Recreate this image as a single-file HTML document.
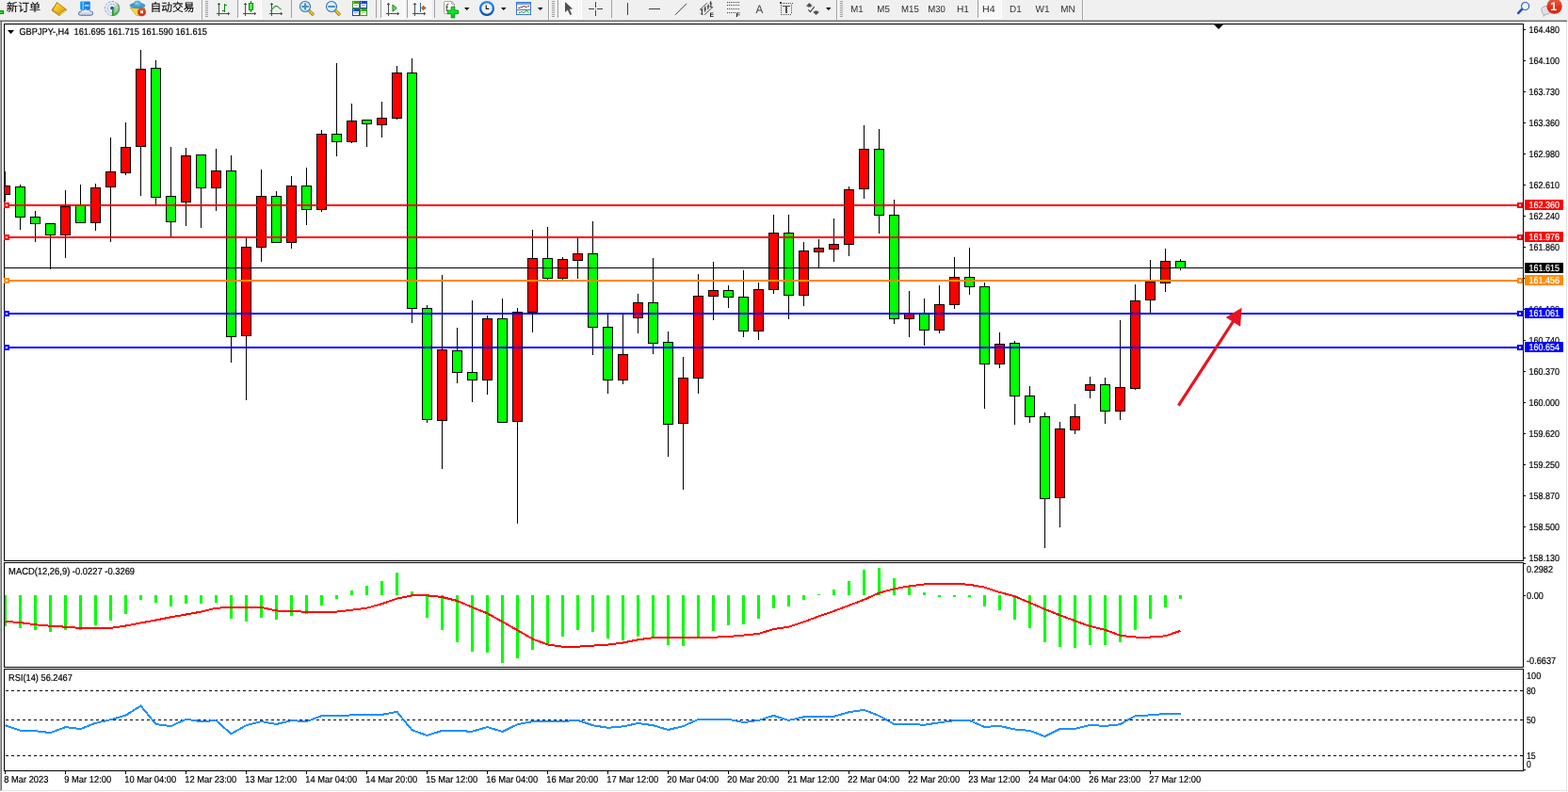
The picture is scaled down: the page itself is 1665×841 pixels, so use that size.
<!DOCTYPE html>
<html lang="zh"><head><meta charset="utf-8"><title>GBPJPY-,H4</title>
<style>
html,body{margin:0;padding:0;background:#fff;overflow:hidden}
body{width:1665px;height:841px;position:relative}
svg{position:absolute;left:0;top:0;display:block}
svg text{font-family:"Liberation Sans","Noto Sans CJK SC",sans-serif;white-space:pre;text-rendering:geometricPrecision}
</style></head><body>
<svg width="1665" height="841" viewBox="0 0 1665 841" shape-rendering="crispEdges">
<defs>

<pattern id="chk" width="2" height="2" patternUnits="userSpaceOnUse"><rect width="2" height="2" fill="#fff"/><rect width="1" height="1" fill="#f0f0f0"/><rect x="1" y="1" width="1" height="1" fill="#f0f0f0"/></pattern>
<linearGradient id="gold" x1="0" y1="0" x2="1" y2="1"><stop offset="0" stop-color="#fbe060"/><stop offset="0.5" stop-color="#f0c018"/><stop offset="1" stop-color="#c88a10"/></linearGradient>
<linearGradient id="blu" x1="0" y1="0" x2="1" y2="0"><stop offset="0" stop-color="#0898f8"/><stop offset="1" stop-color="#2878e0"/></linearGradient>
<linearGradient id="cloud" x1="0" y1="0" x2="0" y2="1"><stop offset="0" stop-color="#ffffff"/><stop offset="1" stop-color="#b8c4dc"/></linearGradient>
<linearGradient id="grn" x1="0" y1="0" x2="0" y2="1"><stop offset="0" stop-color="#c8e8c0"/><stop offset="1" stop-color="#30a030"/></linearGradient>
<linearGradient id="yel" x1="0" y1="0" x2="0" y2="1"><stop offset="0" stop-color="#f8d028"/><stop offset="1" stop-color="#f8e870"/></linearGradient>
<linearGradient id="plus" x1="0" y1="0" x2="0" y2="1"><stop offset="0" stop-color="#20d830"/><stop offset="0.5" stop-color="#00f020"/><stop offset="1" stop-color="#10b818"/></linearGradient>
<linearGradient id="clk" x1="0" y1="0" x2="0" y2="1"><stop offset="0" stop-color="#2090f0"/><stop offset="1" stop-color="#0050b0"/></linearGradient>
<linearGradient id="badge" x1="0" y1="0" x2="0" y2="1"><stop offset="0" stop-color="#e86040"/><stop offset="0.6" stop-color="#e03018"/><stop offset="1" stop-color="#d82810"/></linearGradient>

<clipPath id="cplot"><rect x="5" y="26" width="1612" height="792"/></clipPath>
<clipPath id="cmain"><rect x="1618" y="22" width="47" height="574"/></clipPath>
</defs>
<rect x="0" y="0" width="1665" height="841" fill="#fff"/>
<rect x="0" y="23" width="1" height="817" fill="#a8a8a8"/>
<rect x="1" y="23" width="1" height="816" fill="#696969"/>
<rect x="1663" y="23" width="1" height="817" fill="#e3e3e3"/>
<rect x="1664" y="23" width="1" height="818" fill="#ffffff"/>
<rect x="1" y="839" width="1663" height="1" fill="#e3e3e3"/>
<rect x="0" y="840" width="1665" height="1" fill="#ffffff"/>
<rect x="4" y="25" width="1614" height="1" fill="#000"/>
<rect x="4" y="25" width="1" height="794" fill="#000"/>
<rect x="1617" y="25" width="1" height="794" fill="#000"/>
<rect x="4" y="595" width="1614" height="1" fill="#000"/>
<rect x="4" y="597" width="1614" height="1" fill="#000"/>
<rect x="4" y="708" width="1614" height="1" fill="#000"/>
<rect x="4" y="710" width="1614" height="1" fill="#000"/>
<rect x="4" y="818" width="1614" height="1" fill="#000"/>
<rect x="4" y="596" width="1614" height="1" fill="#fff"/>
<rect x="4" y="709" width="1614" height="1" fill="#fff"/>
<g clip-path="url(#cmain)">
<rect x="1618" y="31" width="2" height="1" fill="#000"/>
<text x="1623.5" y="35" font-size="10.2" fill="#000" stroke="#000" stroke-width="0.2" textLength="32.5" lengthAdjust="spacingAndGlyphs">164.480</text>
<rect x="1618" y="64" width="2" height="1" fill="#000"/>
<text x="1623.5" y="68" font-size="10.2" fill="#000" stroke="#000" stroke-width="0.2" textLength="32.5" lengthAdjust="spacingAndGlyphs">164.100</text>
<rect x="1618" y="97" width="2" height="1" fill="#000"/>
<text x="1623.5" y="101" font-size="10.2" fill="#000" stroke="#000" stroke-width="0.2" textLength="32.5" lengthAdjust="spacingAndGlyphs">163.730</text>
<rect x="1618" y="130" width="2" height="1" fill="#000"/>
<text x="1623.5" y="134" font-size="10.2" fill="#000" stroke="#000" stroke-width="0.2" textLength="32.5" lengthAdjust="spacingAndGlyphs">163.360</text>
<rect x="1618" y="163" width="2" height="1" fill="#000"/>
<text x="1623.5" y="167" font-size="10.2" fill="#000" stroke="#000" stroke-width="0.2" textLength="32.5" lengthAdjust="spacingAndGlyphs">162.980</text>
<rect x="1618" y="196" width="2" height="1" fill="#000"/>
<text x="1623.5" y="200" font-size="10.2" fill="#000" stroke="#000" stroke-width="0.2" textLength="32.5" lengthAdjust="spacingAndGlyphs">162.610</text>
<rect x="1618" y="229" width="2" height="1" fill="#000"/>
<text x="1623.5" y="233" font-size="10.2" fill="#000" stroke="#000" stroke-width="0.2" textLength="32.5" lengthAdjust="spacingAndGlyphs">162.240</text>
<rect x="1618" y="262" width="2" height="1" fill="#000"/>
<text x="1623.5" y="266" font-size="10.2" fill="#000" stroke="#000" stroke-width="0.2" textLength="32.5" lengthAdjust="spacingAndGlyphs">161.860</text>
<rect x="1618" y="295" width="2" height="1" fill="#000"/>
<rect x="1618" y="328" width="2" height="1" fill="#000"/>
<text x="1623.5" y="332" font-size="10.2" fill="#000" stroke="#000" stroke-width="0.2" textLength="32.5" lengthAdjust="spacingAndGlyphs">161.120</text>
<rect x="1618" y="361" width="2" height="1" fill="#000"/>
<text x="1623.5" y="365" font-size="10.2" fill="#000" stroke="#000" stroke-width="0.2" textLength="32.5" lengthAdjust="spacingAndGlyphs">160.740</text>
<rect x="1618" y="394" width="2" height="1" fill="#000"/>
<text x="1623.5" y="398" font-size="10.2" fill="#000" stroke="#000" stroke-width="0.2" textLength="32.5" lengthAdjust="spacingAndGlyphs">160.370</text>
<rect x="1618" y="427" width="2" height="1" fill="#000"/>
<text x="1623.5" y="431" font-size="10.2" fill="#000" stroke="#000" stroke-width="0.2" textLength="32.5" lengthAdjust="spacingAndGlyphs">160.000</text>
<rect x="1618" y="460" width="2" height="1" fill="#000"/>
<text x="1623.5" y="464" font-size="10.2" fill="#000" stroke="#000" stroke-width="0.2" textLength="32.5" lengthAdjust="spacingAndGlyphs">159.620</text>
<rect x="1618" y="493" width="2" height="1" fill="#000"/>
<text x="1623.5" y="497" font-size="10.2" fill="#000" stroke="#000" stroke-width="0.2" textLength="32.5" lengthAdjust="spacingAndGlyphs">159.250</text>
<rect x="1618" y="526" width="2" height="1" fill="#000"/>
<text x="1623.5" y="530" font-size="10.2" fill="#000" stroke="#000" stroke-width="0.2" textLength="32.5" lengthAdjust="spacingAndGlyphs">158.870</text>
<rect x="1618" y="559" width="2" height="1" fill="#000"/>
<text x="1623.5" y="563" font-size="10.2" fill="#000" stroke="#000" stroke-width="0.2" textLength="32.5" lengthAdjust="spacingAndGlyphs">158.500</text>
<rect x="1618" y="592" width="2" height="1" fill="#000"/>
<text x="1623.5" y="596" font-size="10.2" fill="#000" stroke="#000" stroke-width="0.2" textLength="32.5" lengthAdjust="spacingAndGlyphs">158.130</text>
</g>
<g clip-path="url(#cplot)">
<rect x="5" y="182" width="1" height="32" fill="#000"/>
<rect x="0" y="197" width="11" height="10" fill="#000"/>
<rect x="1" y="198" width="9" height="8" fill="#ff0000"/>
<rect x="21" y="196" width="1" height="48" fill="#000"/>
<rect x="16" y="198" width="11" height="33" fill="#000"/>
<rect x="17" y="199" width="9" height="31" fill="#00ff00"/>
<rect x="37" y="224" width="1" height="33" fill="#000"/>
<rect x="32" y="230" width="11" height="8" fill="#000"/>
<rect x="33" y="231" width="9" height="6" fill="#00ff00"/>
<rect x="53" y="237" width="1" height="49" fill="#000"/>
<rect x="48" y="237" width="11" height="13" fill="#000"/>
<rect x="49" y="238" width="9" height="11" fill="#00ff00"/>
<rect x="69" y="202" width="1" height="72" fill="#000"/>
<rect x="64" y="219" width="11" height="31" fill="#000"/>
<rect x="65" y="220" width="9" height="29" fill="#ff0000"/>
<rect x="85" y="196" width="1" height="41" fill="#000"/>
<rect x="80" y="218" width="11" height="19" fill="#000"/>
<rect x="81" y="219" width="9" height="17" fill="#00ff00"/>
<rect x="101" y="195" width="1" height="50" fill="#000"/>
<rect x="96" y="199" width="11" height="38" fill="#000"/>
<rect x="97" y="200" width="9" height="36" fill="#ff0000"/>
<rect x="117" y="146" width="1" height="111" fill="#000"/>
<rect x="112" y="182" width="11" height="17" fill="#000"/>
<rect x="113" y="183" width="9" height="15" fill="#ff0000"/>
<rect x="133" y="130" width="1" height="56" fill="#000"/>
<rect x="128" y="156" width="11" height="28" fill="#000"/>
<rect x="129" y="157" width="9" height="26" fill="#ff0000"/>
<rect x="149" y="53" width="1" height="155" fill="#000"/>
<rect x="144" y="73" width="11" height="83" fill="#000"/>
<rect x="145" y="74" width="9" height="81" fill="#ff0000"/>
<rect x="165" y="64" width="1" height="153" fill="#000"/>
<rect x="160" y="72" width="11" height="138" fill="#000"/>
<rect x="161" y="73" width="9" height="136" fill="#00ff00"/>
<rect x="181" y="156" width="1" height="95" fill="#000"/>
<rect x="176" y="208" width="11" height="28" fill="#000"/>
<rect x="177" y="209" width="9" height="26" fill="#00ff00"/>
<rect x="197" y="157" width="1" height="83" fill="#000"/>
<rect x="192" y="165" width="11" height="50" fill="#000"/>
<rect x="193" y="166" width="9" height="48" fill="#ff0000"/>
<rect x="213" y="164" width="1" height="78" fill="#000"/>
<rect x="208" y="164" width="11" height="36" fill="#000"/>
<rect x="209" y="165" width="9" height="34" fill="#00ff00"/>
<rect x="229" y="158" width="1" height="66" fill="#000"/>
<rect x="224" y="181" width="11" height="19" fill="#000"/>
<rect x="225" y="182" width="9" height="17" fill="#ff0000"/>
<rect x="245" y="165" width="1" height="220" fill="#000"/>
<rect x="240" y="181" width="11" height="177" fill="#000"/>
<rect x="241" y="182" width="9" height="175" fill="#00ff00"/>
<rect x="261" y="253" width="1" height="172" fill="#000"/>
<rect x="256" y="262" width="11" height="95" fill="#000"/>
<rect x="257" y="263" width="9" height="93" fill="#ff0000"/>
<rect x="277" y="180" width="1" height="98" fill="#000"/>
<rect x="272" y="208" width="11" height="55" fill="#000"/>
<rect x="273" y="209" width="9" height="53" fill="#ff0000"/>
<rect x="293" y="203" width="1" height="55" fill="#000"/>
<rect x="288" y="208" width="11" height="50" fill="#000"/>
<rect x="289" y="209" width="9" height="48" fill="#00ff00"/>
<rect x="309" y="187" width="1" height="77" fill="#000"/>
<rect x="304" y="197" width="11" height="61" fill="#000"/>
<rect x="305" y="198" width="9" height="59" fill="#ff0000"/>
<rect x="325" y="178" width="1" height="61" fill="#000"/>
<rect x="320" y="197" width="11" height="26" fill="#000"/>
<rect x="321" y="198" width="9" height="24" fill="#00ff00"/>
<rect x="341" y="138" width="1" height="87" fill="#000"/>
<rect x="336" y="142" width="11" height="81" fill="#000"/>
<rect x="337" y="143" width="9" height="79" fill="#ff0000"/>
<rect x="357" y="67" width="1" height="99" fill="#000"/>
<rect x="352" y="142" width="11" height="9" fill="#000"/>
<rect x="353" y="143" width="9" height="7" fill="#00ff00"/>
<rect x="373" y="110" width="1" height="42" fill="#000"/>
<rect x="368" y="128" width="11" height="23" fill="#000"/>
<rect x="369" y="129" width="9" height="21" fill="#ff0000"/>
<rect x="389" y="127" width="1" height="29" fill="#000"/>
<rect x="384" y="127" width="11" height="5" fill="#000"/>
<rect x="385" y="128" width="9" height="3" fill="#00ff00"/>
<rect x="405" y="108" width="1" height="38" fill="#000"/>
<rect x="400" y="125" width="11" height="8" fill="#000"/>
<rect x="401" y="126" width="9" height="6" fill="#ff0000"/>
<rect x="421" y="70" width="1" height="57" fill="#000"/>
<rect x="416" y="77" width="11" height="49" fill="#000"/>
<rect x="417" y="78" width="9" height="47" fill="#ff0000"/>
<rect x="437" y="62" width="1" height="281" fill="#000"/>
<rect x="432" y="77" width="11" height="251" fill="#000"/>
<rect x="433" y="78" width="9" height="249" fill="#00ff00"/>
<rect x="453" y="324" width="1" height="125" fill="#000"/>
<rect x="448" y="327" width="11" height="119" fill="#000"/>
<rect x="449" y="328" width="9" height="117" fill="#00ff00"/>
<rect x="469" y="292" width="1" height="206" fill="#000"/>
<rect x="464" y="371" width="11" height="76" fill="#000"/>
<rect x="465" y="372" width="9" height="74" fill="#ff0000"/>
<rect x="485" y="348" width="1" height="59" fill="#000"/>
<rect x="480" y="372" width="11" height="24" fill="#000"/>
<rect x="481" y="373" width="9" height="22" fill="#00ff00"/>
<rect x="501" y="319" width="1" height="108" fill="#000"/>
<rect x="496" y="395" width="11" height="9" fill="#000"/>
<rect x="497" y="396" width="9" height="7" fill="#00ff00"/>
<rect x="517" y="335" width="1" height="84" fill="#000"/>
<rect x="512" y="338" width="11" height="66" fill="#000"/>
<rect x="513" y="339" width="9" height="64" fill="#ff0000"/>
<rect x="533" y="317" width="1" height="132" fill="#000"/>
<rect x="528" y="338" width="11" height="111" fill="#000"/>
<rect x="529" y="339" width="9" height="109" fill="#00ff00"/>
<rect x="549" y="327" width="1" height="229" fill="#000"/>
<rect x="544" y="331" width="11" height="117" fill="#000"/>
<rect x="545" y="332" width="9" height="115" fill="#ff0000"/>
<rect x="565" y="244" width="1" height="109" fill="#000"/>
<rect x="560" y="274" width="11" height="58" fill="#000"/>
<rect x="561" y="275" width="9" height="56" fill="#ff0000"/>
<rect x="581" y="241" width="1" height="56" fill="#000"/>
<rect x="576" y="274" width="11" height="22" fill="#000"/>
<rect x="577" y="275" width="9" height="20" fill="#00ff00"/>
<rect x="597" y="273" width="1" height="24" fill="#000"/>
<rect x="592" y="275" width="11" height="21" fill="#000"/>
<rect x="593" y="276" width="9" height="19" fill="#ff0000"/>
<rect x="613" y="253" width="1" height="43" fill="#000"/>
<rect x="608" y="269" width="11" height="8" fill="#000"/>
<rect x="609" y="270" width="9" height="6" fill="#ff0000"/>
<rect x="629" y="235" width="1" height="142" fill="#000"/>
<rect x="624" y="269" width="11" height="79" fill="#000"/>
<rect x="625" y="270" width="9" height="77" fill="#00ff00"/>
<rect x="645" y="334" width="1" height="84" fill="#000"/>
<rect x="640" y="347" width="11" height="57" fill="#000"/>
<rect x="641" y="348" width="9" height="55" fill="#00ff00"/>
<rect x="661" y="334" width="1" height="74" fill="#000"/>
<rect x="656" y="376" width="11" height="28" fill="#000"/>
<rect x="657" y="377" width="9" height="26" fill="#ff0000"/>
<rect x="677" y="312" width="1" height="42" fill="#000"/>
<rect x="672" y="321" width="11" height="17" fill="#000"/>
<rect x="673" y="322" width="9" height="15" fill="#ff0000"/>
<rect x="693" y="274" width="1" height="102" fill="#000"/>
<rect x="688" y="321" width="11" height="44" fill="#000"/>
<rect x="689" y="322" width="9" height="42" fill="#00ff00"/>
<rect x="709" y="352" width="1" height="133" fill="#000"/>
<rect x="704" y="363" width="11" height="88" fill="#000"/>
<rect x="705" y="364" width="9" height="86" fill="#00ff00"/>
<rect x="725" y="379" width="1" height="141" fill="#000"/>
<rect x="720" y="401" width="11" height="49" fill="#000"/>
<rect x="721" y="402" width="9" height="47" fill="#ff0000"/>
<rect x="741" y="291" width="1" height="127" fill="#000"/>
<rect x="736" y="314" width="11" height="88" fill="#000"/>
<rect x="737" y="315" width="9" height="86" fill="#ff0000"/>
<rect x="757" y="278" width="1" height="62" fill="#000"/>
<rect x="752" y="308" width="11" height="7" fill="#000"/>
<rect x="753" y="309" width="9" height="5" fill="#ff0000"/>
<rect x="773" y="303" width="1" height="24" fill="#000"/>
<rect x="768" y="308" width="11" height="8" fill="#000"/>
<rect x="769" y="309" width="9" height="6" fill="#00ff00"/>
<rect x="789" y="287" width="1" height="71" fill="#000"/>
<rect x="784" y="315" width="11" height="37" fill="#000"/>
<rect x="785" y="316" width="9" height="35" fill="#00ff00"/>
<rect x="805" y="300" width="1" height="61" fill="#000"/>
<rect x="800" y="307" width="11" height="45" fill="#000"/>
<rect x="801" y="308" width="9" height="43" fill="#ff0000"/>
<rect x="821" y="228" width="1" height="84" fill="#000"/>
<rect x="816" y="247" width="11" height="61" fill="#000"/>
<rect x="817" y="248" width="9" height="59" fill="#ff0000"/>
<rect x="837" y="228" width="1" height="111" fill="#000"/>
<rect x="832" y="247" width="11" height="67" fill="#000"/>
<rect x="833" y="248" width="9" height="65" fill="#00ff00"/>
<rect x="853" y="257" width="1" height="68" fill="#000"/>
<rect x="848" y="266" width="11" height="48" fill="#000"/>
<rect x="849" y="267" width="9" height="46" fill="#ff0000"/>
<rect x="869" y="254" width="1" height="30" fill="#000"/>
<rect x="864" y="263" width="11" height="5" fill="#000"/>
<rect x="865" y="264" width="9" height="3" fill="#ff0000"/>
<rect x="885" y="232" width="1" height="46" fill="#000"/>
<rect x="880" y="259" width="11" height="6" fill="#000"/>
<rect x="881" y="260" width="9" height="4" fill="#ff0000"/>
<rect x="901" y="198" width="1" height="74" fill="#000"/>
<rect x="896" y="201" width="11" height="59" fill="#000"/>
<rect x="897" y="202" width="9" height="57" fill="#ff0000"/>
<rect x="917" y="133" width="1" height="78" fill="#000"/>
<rect x="912" y="158" width="11" height="43" fill="#000"/>
<rect x="913" y="159" width="9" height="41" fill="#ff0000"/>
<rect x="933" y="137" width="1" height="111" fill="#000"/>
<rect x="928" y="158" width="11" height="71" fill="#000"/>
<rect x="929" y="159" width="9" height="69" fill="#00ff00"/>
<rect x="949" y="212" width="1" height="132" fill="#000"/>
<rect x="944" y="228" width="11" height="111" fill="#000"/>
<rect x="945" y="229" width="9" height="109" fill="#00ff00"/>
<rect x="965" y="309" width="1" height="49" fill="#000"/>
<rect x="960" y="333" width="11" height="6" fill="#000"/>
<rect x="961" y="334" width="9" height="4" fill="#ff0000"/>
<rect x="981" y="317" width="1" height="50" fill="#000"/>
<rect x="976" y="333" width="11" height="18" fill="#000"/>
<rect x="977" y="334" width="9" height="16" fill="#00ff00"/>
<rect x="997" y="303" width="1" height="51" fill="#000"/>
<rect x="992" y="323" width="11" height="28" fill="#000"/>
<rect x="993" y="324" width="9" height="26" fill="#ff0000"/>
<rect x="1013" y="273" width="1" height="55" fill="#000"/>
<rect x="1008" y="294" width="11" height="30" fill="#000"/>
<rect x="1009" y="295" width="9" height="28" fill="#ff0000"/>
<rect x="1029" y="263" width="1" height="50" fill="#000"/>
<rect x="1024" y="294" width="11" height="11" fill="#000"/>
<rect x="1025" y="295" width="9" height="9" fill="#00ff00"/>
<rect x="1045" y="300" width="1" height="134" fill="#000"/>
<rect x="1040" y="304" width="11" height="83" fill="#000"/>
<rect x="1041" y="305" width="9" height="81" fill="#00ff00"/>
<rect x="1061" y="353" width="1" height="38" fill="#000"/>
<rect x="1056" y="365" width="11" height="22" fill="#000"/>
<rect x="1057" y="366" width="9" height="20" fill="#ff0000"/>
<rect x="1077" y="362" width="1" height="89" fill="#000"/>
<rect x="1072" y="364" width="11" height="57" fill="#000"/>
<rect x="1073" y="365" width="9" height="55" fill="#00ff00"/>
<rect x="1093" y="410" width="1" height="39" fill="#000"/>
<rect x="1088" y="420" width="11" height="23" fill="#000"/>
<rect x="1089" y="421" width="9" height="21" fill="#00ff00"/>
<rect x="1109" y="438" width="1" height="144" fill="#000"/>
<rect x="1104" y="442" width="11" height="88" fill="#000"/>
<rect x="1105" y="443" width="9" height="86" fill="#00ff00"/>
<rect x="1125" y="448" width="1" height="112" fill="#000"/>
<rect x="1120" y="455" width="11" height="74" fill="#000"/>
<rect x="1121" y="456" width="9" height="72" fill="#ff0000"/>
<rect x="1141" y="429" width="1" height="32" fill="#000"/>
<rect x="1136" y="442" width="11" height="15" fill="#000"/>
<rect x="1137" y="443" width="9" height="13" fill="#ff0000"/>
<rect x="1157" y="400" width="1" height="23" fill="#000"/>
<rect x="1152" y="408" width="11" height="7" fill="#000"/>
<rect x="1153" y="409" width="9" height="5" fill="#ff0000"/>
<rect x="1173" y="401" width="1" height="49" fill="#000"/>
<rect x="1168" y="408" width="11" height="29" fill="#000"/>
<rect x="1169" y="409" width="9" height="27" fill="#00ff00"/>
<rect x="1189" y="340" width="1" height="106" fill="#000"/>
<rect x="1184" y="411" width="11" height="26" fill="#000"/>
<rect x="1185" y="412" width="9" height="24" fill="#ff0000"/>
<rect x="1205" y="302" width="1" height="112" fill="#000"/>
<rect x="1200" y="319" width="11" height="94" fill="#000"/>
<rect x="1201" y="320" width="9" height="92" fill="#ff0000"/>
<rect x="1221" y="276" width="1" height="56" fill="#000"/>
<rect x="1216" y="299" width="11" height="20" fill="#000"/>
<rect x="1217" y="300" width="9" height="18" fill="#ff0000"/>
<rect x="1237" y="264" width="1" height="46" fill="#000"/>
<rect x="1232" y="277" width="11" height="24" fill="#000"/>
<rect x="1233" y="278" width="9" height="22" fill="#ff0000"/>
<rect x="1253" y="275" width="1" height="12" fill="#000"/>
<rect x="1248" y="277" width="11" height="8" fill="#000"/>
<rect x="1249" y="278" width="9" height="6" fill="#00ff00"/>
</g>
<rect x="5" y="284" width="1612" height="1" fill="#000"/>
<rect x="1619" y="279" width="41" height="11" fill="#000"/>
<text x="1623.5" y="288.2" font-size="10.2" fill="#fff" stroke="#fff" stroke-width="0.2" textLength="32.5" lengthAdjust="spacingAndGlyphs">161.615</text>
<rect x="5" y="217" width="1612" height="2" fill="#ff0000"/>
<rect x="4" y="215" width="6" height="6" fill="#ff0000"/>
<rect x="6" y="217" width="2" height="2" fill="#fff"/>
<rect x="1611" y="215" width="6" height="6" fill="#ff0000"/>
<rect x="1613" y="217" width="2" height="2" fill="#fff"/>
<rect x="1619" y="212" width="41" height="11" fill="#ff0000"/>
<text x="1623.5" y="221.2" font-size="10.2" fill="#fff" stroke="#fff" stroke-width="0.2" textLength="32.5" lengthAdjust="spacingAndGlyphs">162.360</text>
<rect x="5" y="251" width="1612" height="2" fill="#ff0000"/>
<rect x="4" y="249" width="6" height="6" fill="#ff0000"/>
<rect x="6" y="251" width="2" height="2" fill="#fff"/>
<rect x="1611" y="249" width="6" height="6" fill="#ff0000"/>
<rect x="1613" y="251" width="2" height="2" fill="#fff"/>
<rect x="1619" y="246" width="41" height="11" fill="#ff0000"/>
<text x="1623.5" y="255.2" font-size="10.2" fill="#fff" stroke="#fff" stroke-width="0.2" textLength="32.5" lengthAdjust="spacingAndGlyphs">161.976</text>
<rect x="5" y="297" width="1612" height="2" fill="#ff8c00"/>
<rect x="4" y="295" width="6" height="6" fill="#ff8c00"/>
<rect x="6" y="297" width="2" height="2" fill="#fff"/>
<rect x="1611" y="295" width="6" height="6" fill="#ff8c00"/>
<rect x="1613" y="297" width="2" height="2" fill="#fff"/>
<rect x="1619" y="292" width="41" height="11" fill="#ff8c00"/>
<text x="1623.5" y="301.2" font-size="10.2" fill="#fff" stroke="#fff" stroke-width="0.2" textLength="32.5" lengthAdjust="spacingAndGlyphs">161.456</text>
<rect x="5" y="332" width="1612" height="2" fill="#0000ff"/>
<rect x="4" y="330" width="6" height="6" fill="#0000ff"/>
<rect x="6" y="332" width="2" height="2" fill="#fff"/>
<rect x="1611" y="330" width="6" height="6" fill="#0000ff"/>
<rect x="1613" y="332" width="2" height="2" fill="#fff"/>
<rect x="1619" y="327" width="41" height="11" fill="#0000ff"/>
<text x="1623.5" y="336.2" font-size="10.2" fill="#fff" stroke="#fff" stroke-width="0.2" textLength="32.5" lengthAdjust="spacingAndGlyphs">161.061</text>
<rect x="5" y="368" width="1612" height="2" fill="#0000ff"/>
<rect x="4" y="366" width="6" height="6" fill="#0000ff"/>
<rect x="6" y="368" width="2" height="2" fill="#fff"/>
<rect x="1611" y="366" width="6" height="6" fill="#0000ff"/>
<rect x="1613" y="368" width="2" height="2" fill="#fff"/>
<rect x="1619" y="363" width="41" height="11" fill="#0000ff"/>
<text x="1623.5" y="372.2" font-size="10.2" fill="#fff" stroke="#fff" stroke-width="0.2" textLength="32.5" lengthAdjust="spacingAndGlyphs">160.654</text>
<g shape-rendering="geometricPrecision"><line x1="1251.4" y1="430.6" x2="1311" y2="339" stroke="#e8131f" stroke-width="3.2"/><polygon points="1318.6,326.7 1301.7,336.9 1317.1,346.7" fill="#e8131f"/></g>
<polygon points="1289,26 1299,26 1294,31" fill="#000" shape-rendering="geometricPrecision"/>
<polygon points="8,32 15,32 11.5,36" fill="#000" shape-rendering="geometricPrecision"/>
<text x="20.4" y="37" font-size="10.2" fill="#000" stroke="#000" stroke-width="0.2" textLength="199.4" lengthAdjust="spacingAndGlyphs">GBPJPY-,H4  161.695 161.715 161.590 161.615</text>
<g clip-path="url(#cplot)">
<rect x="4" y="632" width="3" height="33" fill="#00ff00"/>
<rect x="20" y="632" width="3" height="35" fill="#00ff00"/>
<rect x="36" y="632" width="3" height="37" fill="#00ff00"/>
<rect x="52" y="632" width="3" height="39" fill="#00ff00"/>
<rect x="68" y="632" width="3" height="37" fill="#00ff00"/>
<rect x="84" y="632" width="3" height="37" fill="#00ff00"/>
<rect x="100" y="632" width="3" height="32" fill="#00ff00"/>
<rect x="116" y="632" width="3" height="27" fill="#00ff00"/>
<rect x="132" y="632" width="3" height="20" fill="#00ff00"/>
<rect x="148" y="632" width="3" height="5" fill="#00ff00"/>
<rect x="164" y="632" width="3" height="8" fill="#00ff00"/>
<rect x="180" y="632" width="3" height="12" fill="#00ff00"/>
<rect x="196" y="632" width="3" height="9" fill="#00ff00"/>
<rect x="212" y="632" width="3" height="9" fill="#00ff00"/>
<rect x="228" y="632" width="3" height="8" fill="#00ff00"/>
<rect x="244" y="632" width="3" height="25" fill="#00ff00"/>
<rect x="260" y="632" width="3" height="28" fill="#00ff00"/>
<rect x="276" y="632" width="3" height="24" fill="#00ff00"/>
<rect x="292" y="632" width="3" height="26" fill="#00ff00"/>
<rect x="308" y="632" width="3" height="22" fill="#00ff00"/>
<rect x="324" y="632" width="3" height="20" fill="#00ff00"/>
<rect x="340" y="632" width="3" height="11" fill="#00ff00"/>
<rect x="356" y="632" width="3" height="4" fill="#00ff00"/>
<rect x="372" y="627" width="3" height="5" fill="#00ff00"/>
<rect x="388" y="622" width="3" height="10" fill="#00ff00"/>
<rect x="404" y="617" width="3" height="15" fill="#00ff00"/>
<rect x="420" y="608" width="3" height="24" fill="#00ff00"/>
<rect x="436" y="628" width="3" height="4" fill="#00ff00"/>
<rect x="452" y="632" width="3" height="24" fill="#00ff00"/>
<rect x="468" y="632" width="3" height="37" fill="#00ff00"/>
<rect x="484" y="632" width="3" height="50" fill="#00ff00"/>
<rect x="500" y="632" width="3" height="60" fill="#00ff00"/>
<rect x="516" y="632" width="3" height="61" fill="#00ff00"/>
<rect x="532" y="632" width="3" height="72" fill="#00ff00"/>
<rect x="548" y="632" width="3" height="67" fill="#00ff00"/>
<rect x="564" y="632" width="3" height="58" fill="#00ff00"/>
<rect x="580" y="632" width="3" height="52" fill="#00ff00"/>
<rect x="596" y="632" width="3" height="44" fill="#00ff00"/>
<rect x="612" y="632" width="3" height="37" fill="#00ff00"/>
<rect x="628" y="632" width="3" height="39" fill="#00ff00"/>
<rect x="644" y="632" width="3" height="46" fill="#00ff00"/>
<rect x="660" y="632" width="3" height="48" fill="#00ff00"/>
<rect x="676" y="632" width="3" height="44" fill="#00ff00"/>
<rect x="692" y="632" width="3" height="45" fill="#00ff00"/>
<rect x="708" y="632" width="3" height="53" fill="#00ff00"/>
<rect x="724" y="632" width="3" height="54" fill="#00ff00"/>
<rect x="740" y="632" width="3" height="45" fill="#00ff00"/>
<rect x="756" y="632" width="3" height="38" fill="#00ff00"/>
<rect x="772" y="632" width="3" height="32" fill="#00ff00"/>
<rect x="788" y="632" width="3" height="31" fill="#00ff00"/>
<rect x="804" y="632" width="3" height="25" fill="#00ff00"/>
<rect x="820" y="632" width="3" height="14" fill="#00ff00"/>
<rect x="836" y="632" width="3" height="12" fill="#00ff00"/>
<rect x="852" y="632" width="3" height="5" fill="#00ff00"/>
<rect x="868" y="631" width="3" height="1" fill="#00ff00"/>
<rect x="884" y="626" width="3" height="6" fill="#00ff00"/>
<rect x="900" y="617" width="3" height="15" fill="#00ff00"/>
<rect x="916" y="605" width="3" height="27" fill="#00ff00"/>
<rect x="932" y="603" width="3" height="29" fill="#00ff00"/>
<rect x="948" y="614" width="3" height="18" fill="#00ff00"/>
<rect x="964" y="622" width="3" height="10" fill="#00ff00"/>
<rect x="980" y="629" width="3" height="3" fill="#00ff00"/>
<rect x="996" y="632" width="3" height="2" fill="#00ff00"/>
<rect x="1012" y="632" width="3" height="2" fill="#00ff00"/>
<rect x="1028" y="632" width="3" height="2" fill="#00ff00"/>
<rect x="1044" y="632" width="3" height="12" fill="#00ff00"/>
<rect x="1060" y="632" width="3" height="16" fill="#00ff00"/>
<rect x="1076" y="632" width="3" height="26" fill="#00ff00"/>
<rect x="1092" y="632" width="3" height="35" fill="#00ff00"/>
<rect x="1108" y="632" width="3" height="50" fill="#00ff00"/>
<rect x="1124" y="632" width="3" height="55" fill="#00ff00"/>
<rect x="1140" y="632" width="3" height="56" fill="#00ff00"/>
<rect x="1156" y="632" width="3" height="53" fill="#00ff00"/>
<rect x="1172" y="632" width="3" height="53" fill="#00ff00"/>
<rect x="1188" y="632" width="3" height="50" fill="#00ff00"/>
<rect x="1204" y="632" width="3" height="37" fill="#00ff00"/>
<rect x="1220" y="632" width="3" height="25" fill="#00ff00"/>
<rect x="1236" y="632" width="3" height="13" fill="#00ff00"/>
<rect x="1252" y="632" width="3" height="4" fill="#00ff00"/>
<polyline points="5.5,659.9 21.5,661.1 37.5,663.3 53.5,664.7 69.5,665.7 85.5,666.9 101.5,666.9 117.5,666.9 133.5,664.5 149.5,661.4 165.5,658.5 181.5,655.3 197.5,652.5 213.5,649.6 229.5,645.7 245.5,645 261.5,645 277.5,645 293.5,648.4 309.5,649.3 325.5,649.6 341.5,649.6 357.5,649.6 373.5,647.7 389.5,645.7 405.5,641.2 421.5,635.6 437.5,632.3 453.5,632.3 469.5,634 485.5,638 501.5,644.8 517.5,651.3 533.5,660.2 549.5,669.2 565.5,678.5 581.5,684.4 597.5,686.7 613.5,686.7 629.5,685.6 645.5,684.6 661.5,682.5 677.5,679.3 693.5,677.2 709.5,676.7 725.5,676.7 741.5,676.7 757.5,676.7 773.5,676 789.5,674.6 805.5,672.9 821.5,668.1 837.5,665.7 853.5,660.4 869.5,654.4 885.5,648.9 901.5,642.9 917.5,636.8 933.5,629.6 949.5,625.3 965.5,622.4 981.5,620.5 997.5,619.8 1013.5,619.8 1029.5,620.8 1045.5,623.6 1061.5,628.9 1077.5,633.2 1093.5,640 1109.5,646.9 1125.5,653.3 1141.5,659.3 1157.5,665 1173.5,668.8 1189.5,674.8 1205.5,676.5 1221.5,676.5 1237.5,675.3 1253.5,669.8" fill="none" stroke="#ff0000" stroke-width="2" shape-rendering="crispEdges" stroke-linejoin="round"/>
</g>
<text x="9.1" y="610" font-size="10.2" fill="#000" stroke="#000" stroke-width="0.2" textLength="134" lengthAdjust="spacingAndGlyphs">MACD(12,26,9) -0.0227 -0.3269</text>
<rect x="1618" y="598" width="2" height="1" fill="#000"/>
<text x="1621" y="608" font-size="10.2" fill="#000" stroke="#000" stroke-width="0.2" textLength="28" lengthAdjust="spacingAndGlyphs">0.2982</text>
<rect x="1618" y="632" width="2" height="1" fill="#000"/>
<text x="1621" y="636" font-size="10.2" fill="#000" stroke="#000" stroke-width="0.2" textLength="18" lengthAdjust="spacingAndGlyphs">0.00</text>
<text x="1621" y="705" font-size="10.2" fill="#000" stroke="#000" stroke-width="0.2" textLength="31.2" lengthAdjust="spacingAndGlyphs">-0.6637</text>
<line x1="6" y1="733.5" x2="1617" y2="733.5" stroke="#000" stroke-width="1" stroke-dasharray="3 3"/>
<line x1="6" y1="764.5" x2="1617" y2="764.5" stroke="#000" stroke-width="1" stroke-dasharray="3 3"/>
<line x1="6" y1="802.5" x2="1617" y2="802.5" stroke="#000" stroke-width="1" stroke-dasharray="3 3"/>
<g clip-path="url(#cplot)">
<polyline points="5.5,770.2 21.5,775.7 37.5,776.2 53.5,778.1 69.5,772.1 85.5,774 101.5,767.8 117.5,764.2 133.5,759.6 149.5,749.5 165.5,769 181.5,771.1 197.5,763.7 213.5,766.1 229.5,765.1 245.5,779.3 261.5,770.2 277.5,766.1 293.5,769 309.5,765.1 325.5,766.1 341.5,760.1 357.5,760.1 373.5,759.4 389.5,759.1 405.5,758.9 421.5,755.8 437.5,775.2 453.5,781 469.5,775.9 485.5,776.2 501.5,776.7 517.5,772.1 533.5,776.9 549.5,769.2 565.5,766.1 581.5,765.9 597.5,765.9 613.5,764.9 629.5,770.2 645.5,772.8 661.5,771.4 677.5,768 693.5,770.2 709.5,775 725.5,771.1 741.5,763.9 757.5,763.7 773.5,763.7 789.5,767.1 805.5,764.9 821.5,759.9 837.5,764.9 853.5,761.3 869.5,761 885.5,760.8 901.5,756.2 917.5,753.8 933.5,760.1 949.5,769 965.5,769 981.5,769.7 997.5,767.3 1013.5,765.1 1029.5,765.1 1045.5,771.9 1061.5,770.9 1077.5,774.5 1093.5,775.9 1109.5,782 1125.5,774 1141.5,773.8 1157.5,769.9 1173.5,770.9 1189.5,769.2 1205.5,760.1 1221.5,759.4 1237.5,757.9 1253.5,757.9" fill="none" stroke="#1e90ff" stroke-width="2" shape-rendering="crispEdges" stroke-linejoin="round"/>
</g>
<text x="9.1" y="723" font-size="10.2" fill="#000" stroke="#000" stroke-width="0.2" textLength="67.8" lengthAdjust="spacingAndGlyphs">RSI(14) 56.2467</text>
<text x="1621" y="721" font-size="10.2" fill="#000" stroke="#000" stroke-width="0.2" textLength="15.2" lengthAdjust="spacingAndGlyphs">100</text>
<text x="1621" y="737" font-size="10.2" fill="#000" stroke="#000" stroke-width="0.2" textLength="9.7" lengthAdjust="spacingAndGlyphs">80</text>
<text x="1621" y="768" font-size="10.2" fill="#000" stroke="#000" stroke-width="0.2" textLength="9.7" lengthAdjust="spacingAndGlyphs">50</text>
<text x="1621" y="806" font-size="10.2" fill="#000" stroke="#000" stroke-width="0.2" textLength="9.7" lengthAdjust="spacingAndGlyphs">15</text>
<text x="1621" y="815" font-size="10.2" fill="#000" stroke="#000" stroke-width="0.2" textLength="4.8" lengthAdjust="spacingAndGlyphs">0</text>
<rect x="1618" y="817" width="2" height="1" fill="#000"/>
<rect x="5" y="819" width="1" height="3" fill="#000"/>
<text x="4.2" y="831" font-size="10.2" fill="#000" stroke="#000" stroke-width="0.2" textLength="47.2" lengthAdjust="spacingAndGlyphs">8 Mar 2023</text>
<rect x="69" y="819" width="1" height="3" fill="#000"/>
<text x="68.2" y="831" font-size="10.2" fill="#000" stroke="#000" stroke-width="0.2" textLength="50" lengthAdjust="spacingAndGlyphs">9 Mar 12:00</text>
<rect x="133" y="819" width="1" height="3" fill="#000"/>
<text x="132.2" y="831" font-size="10.2" fill="#000" stroke="#000" stroke-width="0.2" textLength="55" lengthAdjust="spacingAndGlyphs">10 Mar 04:00</text>
<rect x="197" y="819" width="1" height="3" fill="#000"/>
<text x="196.2" y="831" font-size="10.2" fill="#000" stroke="#000" stroke-width="0.2" textLength="55" lengthAdjust="spacingAndGlyphs">12 Mar 23:00</text>
<rect x="261" y="819" width="1" height="3" fill="#000"/>
<text x="260.2" y="831" font-size="10.2" fill="#000" stroke="#000" stroke-width="0.2" textLength="55" lengthAdjust="spacingAndGlyphs">13 Mar 12:00</text>
<rect x="325" y="819" width="1" height="3" fill="#000"/>
<text x="324.2" y="831" font-size="10.2" fill="#000" stroke="#000" stroke-width="0.2" textLength="55" lengthAdjust="spacingAndGlyphs">14 Mar 04:00</text>
<rect x="389" y="819" width="1" height="3" fill="#000"/>
<text x="388.2" y="831" font-size="10.2" fill="#000" stroke="#000" stroke-width="0.2" textLength="55" lengthAdjust="spacingAndGlyphs">14 Mar 20:00</text>
<rect x="453" y="819" width="1" height="3" fill="#000"/>
<text x="452.2" y="831" font-size="10.2" fill="#000" stroke="#000" stroke-width="0.2" textLength="55" lengthAdjust="spacingAndGlyphs">15 Mar 12:00</text>
<rect x="517" y="819" width="1" height="3" fill="#000"/>
<text x="516.2" y="831" font-size="10.2" fill="#000" stroke="#000" stroke-width="0.2" textLength="55" lengthAdjust="spacingAndGlyphs">16 Mar 04:00</text>
<rect x="581" y="819" width="1" height="3" fill="#000"/>
<text x="580.2" y="831" font-size="10.2" fill="#000" stroke="#000" stroke-width="0.2" textLength="55" lengthAdjust="spacingAndGlyphs">16 Mar 20:00</text>
<rect x="645" y="819" width="1" height="3" fill="#000"/>
<text x="644.2" y="831" font-size="10.2" fill="#000" stroke="#000" stroke-width="0.2" textLength="55" lengthAdjust="spacingAndGlyphs">17 Mar 12:00</text>
<rect x="709" y="819" width="1" height="3" fill="#000"/>
<text x="708.2" y="831" font-size="10.2" fill="#000" stroke="#000" stroke-width="0.2" textLength="55" lengthAdjust="spacingAndGlyphs">20 Mar 04:00</text>
<rect x="773" y="819" width="1" height="3" fill="#000"/>
<text x="772.2" y="831" font-size="10.2" fill="#000" stroke="#000" stroke-width="0.2" textLength="55" lengthAdjust="spacingAndGlyphs">20 Mar 20:00</text>
<rect x="837" y="819" width="1" height="3" fill="#000"/>
<text x="836.2" y="831" font-size="10.2" fill="#000" stroke="#000" stroke-width="0.2" textLength="55" lengthAdjust="spacingAndGlyphs">21 Mar 12:00</text>
<rect x="901" y="819" width="1" height="3" fill="#000"/>
<text x="900.2" y="831" font-size="10.2" fill="#000" stroke="#000" stroke-width="0.2" textLength="55" lengthAdjust="spacingAndGlyphs">22 Mar 04:00</text>
<rect x="965" y="819" width="1" height="3" fill="#000"/>
<text x="964.2" y="831" font-size="10.2" fill="#000" stroke="#000" stroke-width="0.2" textLength="55" lengthAdjust="spacingAndGlyphs">22 Mar 20:00</text>
<rect x="1029" y="819" width="1" height="3" fill="#000"/>
<text x="1028.2" y="831" font-size="10.2" fill="#000" stroke="#000" stroke-width="0.2" textLength="55" lengthAdjust="spacingAndGlyphs">23 Mar 12:00</text>
<rect x="1093" y="819" width="1" height="3" fill="#000"/>
<text x="1092.2" y="831" font-size="10.2" fill="#000" stroke="#000" stroke-width="0.2" textLength="55" lengthAdjust="spacingAndGlyphs">24 Mar 04:00</text>
<rect x="1157" y="819" width="1" height="3" fill="#000"/>
<text x="1156.2" y="831" font-size="10.2" fill="#000" stroke="#000" stroke-width="0.2" textLength="55" lengthAdjust="spacingAndGlyphs">26 Mar 23:00</text>
<rect x="1221" y="819" width="1" height="3" fill="#000"/>
<text x="1220.2" y="831" font-size="10.2" fill="#000" stroke="#000" stroke-width="0.2" textLength="55" lengthAdjust="spacingAndGlyphs">27 Mar 12:00</text>
<g id="toolbar">
<rect x="0" y="0" width="1665" height="21" fill="#f0f0f0"/>
<rect x="0" y="21" width="1664" height="1" fill="#b0b0b0"/><rect x="0" y="22" width="1664" height="1" fill="#6a6a6a"/>
<rect x="1664" y="21" width="1" height="2" fill="#f0f0f0"/>
<rect x="0" y="11" width="4" height="4" fill="#0a8a0a"/><rect x="0" y="12" width="3" height="2" fill="#22dd22"/>
<text x="6.8" y="11.7" font-size="12" fill="#000" stroke="#000" stroke-width="0.1" textLength="36.4" lengthAdjust="spacingAndGlyphs">新订单</text>
<g shape-rendering="geometricPrecision">
<path d="M60.3,1.9 L71,9.9 L70.9,11.2 L62.9,17.1 L54.7,11.3 L54.9,10.2 Q57.8,6.5 60.3,1.9 Z" fill="#b87a10"/>
<path d="M60.6,3.2 L69.6,9.8 L62.7,14.9 L56.3,10.4 Q58.8,7 60.6,3.2 Z" fill="url(#gold)"/>
<path d="M56,11.4 L62.8,16 L70,10.8" fill="none" stroke="#e0a818" stroke-width="0.9"/>
<path d="M63.6,15.6 L70.2,10.8" fill="none" stroke="#f4ecc0" stroke-width="0.9"/>
<rect x="85.2" y="1.5" width="10.6" height="9" rx="1" fill="url(#blu)"/>
<path d="M88.2,2 V10" stroke="#dff" stroke-width="0.8"/><path d="M90,5.8 H94.5" stroke="#eef" stroke-width="1.3"/>
<path d="M85.5,16.3 Q83.2,16.3 83.4,14 Q83.6,12 86,12.2 Q86.5,10 89,10.6 Q91,8.6 93,10.6 Q95,9.8 95.8,12 Q98.8,11.8 98.8,14.2 Q98.8,16.3 96.5,16.3 Z" fill="url(#cloud)" stroke="#4a68a8" stroke-width="0.9"/>
<path d="M119.3,9 L119.3,17 A8,8 0 0 0 124.6,3.2 Z" fill="url(#grn)" opacity="0.9"/>
<circle cx="119" cy="9" r="7.4" fill="none" stroke="#4a74d8" stroke-width="1" stroke-dasharray="2.6 1.2" opacity="0.7"/>
<circle cx="119" cy="9" r="4.7" fill="none" stroke="#4a74d8" stroke-width="1" stroke-dasharray="2.2 1" opacity="0.7"/>
<path d="M124.4,3.6 A7.6,7.6 0 0 1 121,16.4" fill="none" stroke="#60a060" stroke-width="1.2" opacity="0.8"/>
<path d="M122.4,5.8 A4.7,4.7 0 0 1 121.4,13.2" fill="none" stroke="#d8f0d0" stroke-width="1" opacity="0.9"/>
<circle cx="119" cy="8.6" r="1.9" fill="#2050d0"/>
<rect x="119" y="9.5" width="1.3" height="7.4" fill="#18a018"/>
<polygon points="138.4,8.4 154,8.4 147.8,16.7 144.6,16.2" fill="url(#yel)" stroke="#c89810" stroke-width="0.7" stroke-linejoin="round"/>
<ellipse cx="146" cy="5.9" rx="8" ry="2.7" fill="#3f9fd4" stroke="#2a86b8" stroke-width="0.7"/>
<ellipse cx="146" cy="3.9" rx="3.8" ry="2.9" fill="#5cb6e4" stroke="#2a86b8" stroke-width="0.5"/>
<ellipse cx="145" cy="3.4" rx="1.6" ry="1" fill="#a8dcf4" opacity="0.8"/>
<circle cx="150.5" cy="12.8" r="4.1" fill="url(#badge)" stroke="#b01808" stroke-width="0.5"/>
<rect x="149.1" y="11.4" width="2.8" height="2.8" fill="#fff"/>
</g>
<text x="159.6" y="11.7" font-size="12" fill="#000" stroke="#000" stroke-width="0.1" textLength="47" lengthAdjust="spacingAndGlyphs">自动交易</text>
<rect x="214" y="0" width="1" height="21" fill="#a0a0a0"/>
<rect x="215" y="0" width="1" height="21" fill="#fff"/>
<rect x="218" y="1" width="3" height="1" fill="#a0a0a0"/>
<rect x="218" y="3" width="3" height="1" fill="#a0a0a0"/>
<rect x="218" y="5" width="3" height="1" fill="#a0a0a0"/>
<rect x="218" y="7" width="3" height="1" fill="#a0a0a0"/>
<rect x="218" y="9" width="3" height="1" fill="#a0a0a0"/>
<rect x="218" y="11" width="3" height="1" fill="#a0a0a0"/>
<rect x="218" y="13" width="3" height="1" fill="#a0a0a0"/>
<rect x="218" y="15" width="3" height="1" fill="#a0a0a0"/>
<rect x="218" y="17" width="3" height="1" fill="#a0a0a0"/>
<rect x="232" y="3" width="1" height="14" fill="#505050"/>
<rect x="231" y="4" width="3" height="1" fill="#505050"/>
<rect x="230" y="14" width="14" height="1" fill="#505050"/>
<rect x="242" y="13" width="1" height="3" fill="#505050"/>
<rect x="238" y="4" width="1" height="9" fill="#0a8a0a"/><rect x="239" y="5" width="2" height="1" fill="#0a8a0a"/><rect x="236" y="11" width="2" height="1" fill="#0a8a0a"/>
<rect x="252" y="0" width="1" height="19" fill="#a0a0a0"/>
<rect x="253" y="0" width="24" height="19" fill="url(#chk)"/>
<rect x="277" y="0" width="1" height="20" fill="#fff"/>
<rect x="252" y="19" width="25" height="1" fill="#fff"/>
<rect x="260" y="3" width="1" height="14" fill="#505050"/>
<rect x="259" y="4" width="3" height="1" fill="#505050"/>
<rect x="258" y="14" width="14" height="1" fill="#505050"/>
<rect x="270" y="13" width="1" height="3" fill="#505050"/>
<rect x="266" y="1" width="1" height="12" fill="#008c00"/><rect x="264" y="3" width="5" height="8" fill="#008c00"/><rect x="265" y="4" width="3" height="6" fill="#58f058"/>
<rect x="288" y="3" width="1" height="14" fill="#505050"/>
<rect x="287" y="4" width="3" height="1" fill="#505050"/>
<rect x="286" y="14" width="14" height="1" fill="#505050"/>
<rect x="298" y="13" width="1" height="3" fill="#505050"/>
<path d="M287.2,11.6 Q290,9 291.5,7.2 Q293.2,5.6 295,7 Q297,9.2 298.6,10" fill="none" stroke="#2a9a2a" stroke-width="1.1" shape-rendering="geometricPrecision"/>
<rect x="309" y="0" width="1" height="19" fill="#a0a0a0"/>
<g shape-rendering="geometricPrecision">
<path d="M327.8,10.9 L333,16" stroke="#a87808" stroke-width="3.4"/>
<path d="M328,10.7 L332.8,15.6" stroke="#f0d020" stroke-width="1.6"/>
<circle cx="324" cy="7" r="5.5" fill="#d8f0fc" stroke="#2a6cc0" stroke-width="1.1"/>
<rect x="320.4" y="6" width="7.4" height="2" fill="#4a90b8"/>
<rect x="323.1" y="3.3" width="2" height="7.4" fill="#4a90b8"/>
</g>
<g shape-rendering="geometricPrecision">
<path d="M355.8,10.9 L361,16" stroke="#a87808" stroke-width="3.4"/>
<path d="M356,10.7 L360.8,15.6" stroke="#f0d020" stroke-width="1.6"/>
<circle cx="352" cy="7" r="5.5" fill="#d8f0fc" stroke="#2a6cc0" stroke-width="1.1"/>
<rect x="348.4" y="6" width="7.4" height="2" fill="#4a90b8"/>
</g>
<rect x="374" y="1" width="8" height="8" fill="#3aa010"/>
<rect x="375" y="4" width="6" height="4" fill="#fff"/>
<rect x="376" y="5" width="4" height="1" fill="#3aa010" opacity="0.5"/>
<rect x="375" y="2" width="1" height="1" fill="#fff" opacity="0.8"/>
<rect x="382" y="1" width="8" height="8" fill="#1848c8"/>
<rect x="383" y="4" width="6" height="4" fill="#fff"/>
<rect x="384" y="5" width="4" height="1" fill="#1848c8" opacity="0.5"/>
<rect x="383" y="2" width="1" height="1" fill="#fff" opacity="0.8"/>
<rect x="374" y="9" width="8" height="8" fill="#1848c8"/>
<rect x="375" y="12" width="6" height="4" fill="#fff"/>
<rect x="376" y="13" width="4" height="1" fill="#1848c8" opacity="0.5"/>
<rect x="375" y="10" width="1" height="1" fill="#fff" opacity="0.8"/>
<rect x="382" y="9" width="8" height="8" fill="#3aa010"/>
<rect x="383" y="12" width="6" height="4" fill="#fff"/>
<rect x="384" y="13" width="4" height="1" fill="#3aa010" opacity="0.5"/>
<rect x="383" y="10" width="1" height="1" fill="#fff" opacity="0.8"/>
<rect x="399" y="0" width="1" height="19" fill="#a0a0a0"/>
<rect x="404" y="0" width="1" height="19" fill="#a0a0a0"/>
<rect x="405" y="0" width="24" height="19" fill="url(#chk)"/>
<rect x="429" y="0" width="1" height="20" fill="#fff"/>
<rect x="404" y="19" width="25" height="1" fill="#fff"/>
<rect x="412" y="3" width="1" height="14" fill="#505050"/>
<rect x="411" y="4" width="3" height="1" fill="#505050"/>
<rect x="410" y="14" width="14" height="1" fill="#505050"/>
<rect x="422" y="13" width="1" height="3" fill="#505050"/>
<polygon points="417,5 421.2,8.6 417,12.2" fill="#60e060" stroke="#0a8a0a" stroke-width="1" shape-rendering="geometricPrecision" stroke-linejoin="round"/>
<rect x="432" y="0" width="1" height="19" fill="#a0a0a0"/>
<rect x="433" y="0" width="24" height="19" fill="url(#chk)"/>
<rect x="457" y="0" width="1" height="20" fill="#fff"/>
<rect x="432" y="19" width="25" height="1" fill="#fff"/>
<rect x="440" y="3" width="1" height="14" fill="#505050"/>
<rect x="439" y="4" width="3" height="1" fill="#505050"/>
<rect x="438" y="14" width="14" height="1" fill="#505050"/>
<rect x="450" y="13" width="1" height="3" fill="#505050"/>
<rect x="446" y="3" width="1" height="10" fill="#1a6a9a"/>
<path d="M447.4,8.5 L450,6 L450,7.8 L452,7.8 L452,9.2 L450,9.2 L450,11 Z" fill="#e85800" stroke="#a03000" stroke-width="0.5" shape-rendering="geometricPrecision"/>
<rect x="461" y="0" width="1" height="19" fill="#a0a0a0"/>
<g shape-rendering="geometricPrecision">
<path d="M471.6,2.6 Q471.6,1.6 472.6,1.6 H479.6 L482.4,4.4 V13.6 Q482.4,14.6 481.4,14.6 H472.6 Q471.6,14.6 471.6,13.6 Z" fill="#fff" stroke="#9a9a9a" stroke-width="0.9"/>
<path d="M479.6,1.6 V4.4 H482.4" fill="none" stroke="#9a9a9a" stroke-width="0.8"/>
<path d="M476.4,4.2 Q474.4,4.2 474.4,6 V12" fill="none" stroke="#504830" stroke-width="1"/><path d="M473.4,7.6 H476" stroke="#504830" stroke-width="0.8"/>
<path d="M479.2,7.2 H482.8 V11 H486.6 V14.6 H482.8 V18.8 H479.2 V14.6 H475.3 V11 H479.2 Z" fill="url(#plus)" stroke="#0a8a0a" stroke-width="0.9"/>
</g>
<polygon points="493,8 498.5,8 495.75,11" fill="#000" shape-rendering="geometricPrecision"/>
<g shape-rendering="geometricPrecision">
<circle cx="517" cy="9" r="6.9" fill="#f4f4f4" stroke="url(#clk)" stroke-width="2.2"/>
<path d="M516.3,5.5 V9.4 H519.4" fill="none" stroke="#202020" stroke-width="1.2"/>
<circle cx="517" cy="9" r="4.6" fill="none" stroke="#909090" stroke-width="0.7" stroke-dasharray="0.5 1.9"/>
</g>
<polygon points="532,8 537.5,8 534.75,11" fill="#000" shape-rendering="geometricPrecision"/>
<rect x="548" y="2" width="16" height="14" fill="#3a78c8"/>
<rect x="549" y="3" width="14" height="2" fill="#6aa8e8"/>
<rect x="549" y="5" width="14" height="5" fill="#fff"/><rect x="549" y="11" width="14" height="4" fill="#fff"/>
<path d="M550.2,8.5 H552 L553.5,7.4 H555 L556,6.5 H557 L558,7.4 H559.5 L560.5,6.5 H562" fill="none" stroke="#a02000" stroke-width="1" shape-rendering="geometricPrecision"/>
<path d="M551,13.5 H552.2 L553.5,12.5 H554.5 L555.5,13.5 H556.5 L558.5,11.5 H559.5 L561.5,13.6" fill="none" stroke="#0a8a1a" stroke-width="1" shape-rendering="geometricPrecision"/>
<polygon points="571,8 576.5,8 573.75,11" fill="#000" shape-rendering="geometricPrecision"/>
<rect x="582" y="0" width="1" height="21" fill="#a0a0a0"/>
<rect x="583" y="0" width="1" height="21" fill="#fff"/>
<rect x="586" y="1" width="3" height="1" fill="#a0a0a0"/>
<rect x="586" y="3" width="3" height="1" fill="#a0a0a0"/>
<rect x="586" y="5" width="3" height="1" fill="#a0a0a0"/>
<rect x="586" y="7" width="3" height="1" fill="#a0a0a0"/>
<rect x="586" y="9" width="3" height="1" fill="#a0a0a0"/>
<rect x="586" y="11" width="3" height="1" fill="#a0a0a0"/>
<rect x="586" y="13" width="3" height="1" fill="#a0a0a0"/>
<rect x="586" y="15" width="3" height="1" fill="#a0a0a0"/>
<rect x="586" y="17" width="3" height="1" fill="#a0a0a0"/>
<rect x="592" y="0" width="1" height="19" fill="#a0a0a0"/>
<rect x="593" y="0" width="24" height="19" fill="url(#chk)"/>
<rect x="617" y="0" width="1" height="20" fill="#fff"/>
<rect x="592" y="19" width="25" height="1" fill="#fff"/>
<polygon points="600,2 600,13 602.8,10.4 605.3,16 607.2,15.2 604.8,9.8 608.2,9.6" fill="#505050" shape-rendering="geometricPrecision"/>
<rect x="632" y="2" width="1" height="6" fill="#404040"/><rect x="632" y="11" width="1" height="6" fill="#404040"/><rect x="625" y="9" width="6" height="1" fill="#404040"/><rect x="634" y="9" width="6" height="1" fill="#404040"/><rect x="632" y="9" width="1" height="1" fill="#807860"/>
<rect x="649" y="0" width="1" height="19" fill="#a0a0a0"/>
<rect x="666" y="3" width="1" height="13" fill="#404040"/>
<rect x="689" y="9" width="12" height="1" fill="#404040"/>
<g shape-rendering="geometricPrecision">
<path d="M717,15.8 L729,3.8" stroke="#404040" stroke-width="1"/>
<path d="M742.8,10.6 L750.8,3.2 M748,15.8 L757.2,7.2" stroke="#404040" stroke-width="0.9"/>
<path d="M745.6,15.4 L745.2,9.4 M748.6,12.6 L748.8,6.8 M751.8,9.8 L752.2,4.8 M754.6,1.4 L755,7.8" stroke="#404040" stroke-width="1.3"/>
<path d="M743.6,14.6 L746.6,15.6 M744,10.4 L746.6,10 M747.4,9.2 L750.2,10 M750.6,6.8 L753.6,7 M753.4,3.4 L756.2,3.8 M754,7.4 L756.6,8" stroke="#404040" stroke-width="0.8"/>
</g>
<text x="753.6" y="17.9" font-size="6.6" fill="#202020" textLength="4.5" lengthAdjust="spacingAndGlyphs" font-weight="bold">E</text>
<rect x="772" y="2" width="1" height="1" fill="#404040"/>
<rect x="774" y="2" width="1" height="1" fill="#404040"/>
<rect x="776" y="2" width="1" height="1" fill="#404040"/>
<rect x="778" y="2" width="1" height="1" fill="#404040"/>
<rect x="780" y="2" width="1" height="1" fill="#404040"/>
<rect x="782" y="2" width="1" height="1" fill="#404040"/>
<rect x="784" y="2" width="1" height="1" fill="#404040"/>
<rect x="772" y="5" width="1" height="1" fill="#404040"/>
<rect x="774" y="5" width="1" height="1" fill="#404040"/>
<rect x="776" y="5" width="1" height="1" fill="#404040"/>
<rect x="778" y="5" width="1" height="1" fill="#404040"/>
<rect x="780" y="5" width="1" height="1" fill="#404040"/>
<rect x="782" y="5" width="1" height="1" fill="#404040"/>
<rect x="784" y="5" width="1" height="1" fill="#404040"/>
<rect x="772" y="9" width="1" height="1" fill="#404040"/>
<rect x="774" y="9" width="1" height="1" fill="#404040"/>
<rect x="776" y="9" width="1" height="1" fill="#404040"/>
<rect x="778" y="9" width="1" height="1" fill="#404040"/>
<rect x="780" y="9" width="1" height="1" fill="#404040"/>
<rect x="782" y="9" width="1" height="1" fill="#404040"/>
<rect x="784" y="9" width="1" height="1" fill="#404040"/>
<rect x="772" y="13" width="1" height="1" fill="#404040"/>
<rect x="774" y="13" width="1" height="1" fill="#404040"/>
<rect x="776" y="13" width="1" height="1" fill="#404040"/>
<rect x="778" y="13" width="1" height="1" fill="#404040"/>
<rect x="780" y="13" width="1" height="1" fill="#404040"/>
<text x="781.6" y="17.9" font-size="6.6" fill="#202020" textLength="4.4" lengthAdjust="spacingAndGlyphs" font-weight="bold">F</text>
<text x="802.6" y="13.9" font-size="12.4" fill="#404040" textLength="7.8" lengthAdjust="spacingAndGlyphs">A</text>
<rect x="831" y="3" width="1" height="1" fill="#404040"/>
<rect x="829" y="15" width="1" height="1" fill="#404040"/>
<rect x="833" y="3" width="1" height="1" fill="#404040"/>
<rect x="831" y="15" width="1" height="1" fill="#404040"/>
<rect x="835" y="3" width="1" height="1" fill="#404040"/>
<rect x="833" y="15" width="1" height="1" fill="#404040"/>
<rect x="837" y="3" width="1" height="1" fill="#404040"/>
<rect x="835" y="15" width="1" height="1" fill="#404040"/>
<rect x="839" y="3" width="1" height="1" fill="#404040"/>
<rect x="837" y="15" width="1" height="1" fill="#404040"/>
<rect x="841" y="3" width="1" height="1" fill="#404040"/>
<rect x="839" y="15" width="1" height="1" fill="#404040"/>
<rect x="829" y="5" width="1" height="1" fill="#404040"/>
<rect x="840" y="5" width="1" height="1" fill="#404040"/>
<rect x="829" y="7" width="1" height="1" fill="#404040"/>
<rect x="840" y="7" width="1" height="1" fill="#404040"/>
<rect x="829" y="9" width="1" height="1" fill="#404040"/>
<rect x="840" y="9" width="1" height="1" fill="#404040"/>
<rect x="829" y="11" width="1" height="1" fill="#404040"/>
<rect x="840" y="11" width="1" height="1" fill="#404040"/>
<rect x="829" y="13" width="1" height="1" fill="#404040"/>
<rect x="840" y="13" width="1" height="1" fill="#404040"/>
<rect x="828" y="2" width="2" height="2" fill="#404040"/>
<rect x="831" y="6" width="8" height="1" fill="#505050"/><rect x="834" y="7" width="2" height="7" fill="#505050"/>
<g shape-rendering="geometricPrecision">
<polygon points="859.4,3 863,6.4 861.2,6.4 861.2,7.6 857.6,7.6 857.6,6.4 855.8,6.4" fill="#505050"/>
<polygon points="866.6,16 863,12.6 864.8,12.6 864.8,11.4 868.4,11.4 868.4,12.6 870.2,12.6" fill="#505050"/>
<path d="M858.3,10.4 L860.4,12.6 L864.8,7.2" fill="none" stroke="#404040" stroke-width="1.1"/>
</g>
<polygon points="877,8 882.5,8 879.75,11" fill="#000" shape-rendering="geometricPrecision"/>
<rect x="888" y="0" width="1" height="21" fill="#a0a0a0"/>
<rect x="889" y="0" width="1" height="21" fill="#fff"/>
<rect x="892" y="1" width="3" height="1" fill="#a0a0a0"/>
<rect x="892" y="3" width="3" height="1" fill="#a0a0a0"/>
<rect x="892" y="5" width="3" height="1" fill="#a0a0a0"/>
<rect x="892" y="7" width="3" height="1" fill="#a0a0a0"/>
<rect x="892" y="9" width="3" height="1" fill="#a0a0a0"/>
<rect x="892" y="11" width="3" height="1" fill="#a0a0a0"/>
<rect x="892" y="13" width="3" height="1" fill="#a0a0a0"/>
<rect x="892" y="15" width="3" height="1" fill="#a0a0a0"/>
<rect x="892" y="17" width="3" height="1" fill="#a0a0a0"/>
<rect x="1038" y="0" width="1" height="19" fill="#a0a0a0"/>
<rect x="1039" y="0" width="24" height="19" fill="url(#chk)"/>
<rect x="1063" y="0" width="1" height="20" fill="#fff"/>
<rect x="1038" y="19" width="25" height="1" fill="#fff"/>
<text x="903.3" y="13" font-size="10.2" fill="#303030" textLength="13.4" lengthAdjust="spacingAndGlyphs">M1</text>
<text x="931.3" y="13" font-size="10.2" fill="#303030" textLength="13.5" lengthAdjust="spacingAndGlyphs">M5</text>
<text x="957.1" y="13" font-size="10.2" fill="#303030" textLength="18.7" lengthAdjust="spacingAndGlyphs">M15</text>
<text x="985.2" y="13" font-size="10.2" fill="#303030" textLength="18.7" lengthAdjust="spacingAndGlyphs">M30</text>
<text x="1016.0" y="13" font-size="10.2" fill="#303030" textLength="13.0" lengthAdjust="spacingAndGlyphs">H1</text>
<text x="1043.0" y="13" font-size="10.2" fill="#303030" textLength="13.6" lengthAdjust="spacingAndGlyphs">H4</text>
<text x="1072.1" y="13" font-size="10.2" fill="#303030" textLength="12.7" lengthAdjust="spacingAndGlyphs">D1</text>
<text x="1099.6" y="13" font-size="10.2" fill="#303030" textLength="15.0" lengthAdjust="spacingAndGlyphs">W1</text>
<text x="1126.2" y="13" font-size="10.2" fill="#303030" textLength="15.4" lengthAdjust="spacingAndGlyphs">MN</text>
<rect x="1149" y="0" width="1" height="21" fill="#a0a0a0"/>
<rect x="1150" y="0" width="1" height="21" fill="#fff"/>
<g shape-rendering="geometricPrecision">
<path d="M1616.3,9.6 L1612.2,13.8" stroke="#2050c8" stroke-width="2.6" stroke-linecap="round"/>
<circle cx="1619.6" cy="6.5" r="4" fill="#f4f6fc" stroke="#2a5cd0" stroke-width="1.2"/>
<path d="M1637,11 Q1636.4,7 1641,6.6 Q1646.5,6.4 1646.8,10.6 Q1646.8,15 1642,15.2 L1640.8,15.2 L1639.2,17.4 L1639,15 Q1637,14 1637,11 Z" fill="#e0e0ea" stroke="#a0a0a0" stroke-width="0.8"/>
<circle cx="1650.6" cy="6.6" r="8.2" fill="url(#badge)"/>
</g>
<text x="1646.3" y="11" font-size="12.5" fill="#fff" font-weight="bold">1</text>
</g>
</svg>
</body></html>
